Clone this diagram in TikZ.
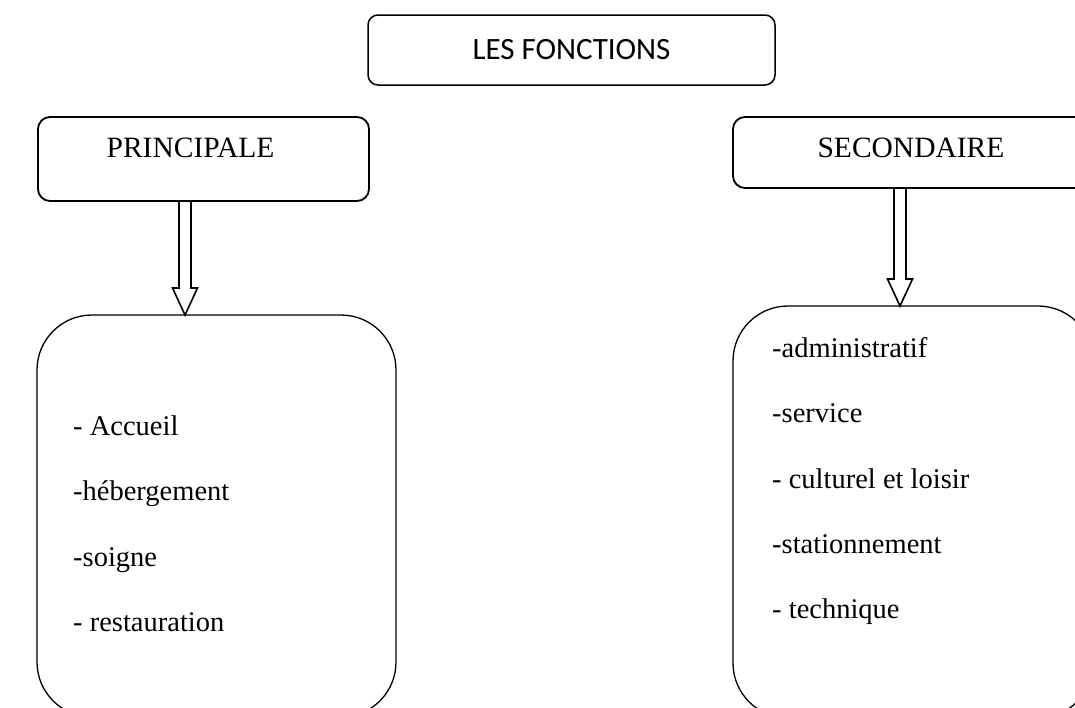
\documentclass[tikz,border=0pt]{standalone}
\usepackage{fontspec}
\setmainfont{Liberation Serif}
\newfontfamily\calibri{Carlito}
\usetikzlibrary{calc}

\tikzset{
  titlebox/.style={draw, rectangle, rounded corners=10pt, line width=1.5pt,
    minimum width=407pt, minimum height=70pt, inner sep=0pt, outer sep=0pt,
    font=\calibri\fontsize{31}{36}\selectfont},
  headbox/.style={draw, rectangle, rounded corners=12pt, line width=1.8pt,
    inner sep=0pt, outer sep=0pt},
  listbox/.style={draw, rectangle, rounded corners=55pt, line width=1.3pt,
    inner sep=0pt, outer sep=0pt},
  headtext/.style={anchor=base, inner sep=0pt, font=\fontsize{29.5}{34}\selectfont},
  item/.style={anchor=base west, inner sep=0pt, font=\fontsize{28.5}{34}\selectfont},
  blockarrow/.style={line width=1.6pt, line join=miter,
    to path={let \p1=(\tikztostart), \p2=(\tikztotarget) in
      (\x1-6pt,\y1) -- (\x1-6pt,\y2+27pt) -- (\x1-12.5pt,\y2+27pt) -- (\x2,\y2)
      -- (\x1+12.5pt,\y2+27pt) -- (\x1+6pt,\y2+27pt) -- (\x1+6pt,\y1)}}
}

\begin{document}
\begin{tikzpicture}[x=1pt, y=-1pt]
\useasboundingbox (0,0) rectangle (1075,707);
\clip (0,0) rectangle (1075,707);

\node[titlebox] (titre) at (571.5,50) {LES FONCTIONS};

\node[headbox, minimum width=331pt, minimum height=84pt] (prin) at (203.5,159) {};
\node[headtext] (prinlab) at (190.5,157) {PRINCIPALE};

\node[headbox, minimum width=380pt, minimum height=71pt] (sec) at (923,152.5) {};
\node[headtext] (seclab) at (911,157) {SECONDAIRE};

\node[listbox, minimum width=359pt, minimum height=402pt] (prinlist) at (216.5,516) {};
\node[listbox, minimum width=360pt, minimum height=412pt] (seclist) at (913,512) {};

\node[item] (p1) at (73,435) {- Accueil};
\node[item] (p2) at (73,500) {-hébergement};
\node[item] (p3) at (73,566) {-soigne};
\node[item] (p4) at (73,631) {- restauration};

\node[item] (s1) at (772,357) {-administratif};
\node[item] (s2) at (772,422) {-service};
\node[item] (s3) at (772,488) {- culturel et loisir};
\node[item] (s4) at (772,553) {-stationnement};
\node[item] (s5) at (772,618) {- technique};

\coordinate (a1) at (185,201);
\coordinate (a2) at (900,188);
\draw[blockarrow] (a1) to (a1 |- prinlist.north);
\draw[blockarrow] (a2) to (a2 |- seclist.north);
\end{tikzpicture}
\end{document}
